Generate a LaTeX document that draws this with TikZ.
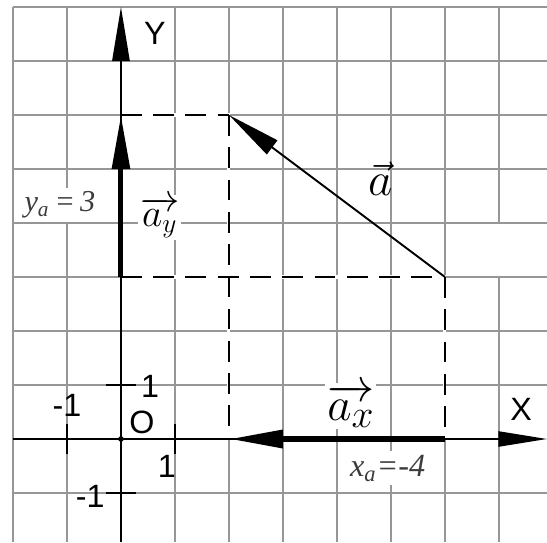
\documentclass[tikz,border=0pt]{standalone}
\usepackage{fontspec}
\setmainfont{Liberation Serif}
\setsansfont{Liberation Sans}
\usetikzlibrary{arrows.meta, positioning}
\definecolor{gridgray}{RGB}{150,150,150}
\definecolor{labelgray}{RGB}{60,60,60}

\begin{document}
\begin{tikzpicture}[>={Triangle[length=1cm, width=0.32cm]}]
    \useasboundingbox (-2.24,-1.91) rectangle (7.89,8.13);

    % Grid
    \foreach \x in {-2,-1,1,2,3,4,5,6} {
        \draw[gridgray, line width=0.6pt] (\x,-1.91) -- (\x,8);
    }
    \draw[gridgray, line width=0.6pt] (7,-1.91) -- (7,3) (7,4) -- (7,8);
    \foreach \y in {-1,1,2,...,8} {
        \draw[gridgray, line width=0.6pt] (-2,\y) -- (7.89,\y);
    }

    % Points
    \coordinate (O) at (0,0);
    \coordinate (A) at (6,3);
    \coordinate (B) at (2,6);
    \coordinate (Ax) at (6,0);
    \coordinate (Bx) at (2,0);
    \coordinate (Ay) at (0,3);
    \coordinate (By) at (0,6);
    \coordinate (xleft) at (-2,0);
    \coordinate (xright) at (7.89,0);
    \coordinate (ybottom) at (0,-1.91);
    \coordinate (ytop) at (0,8);

    % Projection lines
    \draw[white, line width=1.6pt] (By) -- (B) -- (Bx) (Ay) -- (A) -- (Ax);
    \draw[black, line width=1pt, dash pattern=on 11pt off 6pt] (By) -- (B);
    \draw[black, line width=1pt, dash pattern=on 11pt off 6pt] (B) -- (Bx);
    \draw[black, line width=1pt, dash pattern=on 11pt off 6pt] (Ay) -- (A);
    \draw[black, line width=1pt, dash pattern=on 11pt off 6pt] (A) -- (Ax);

    % Axes
    \draw[line width=1pt, -{Triangle[length=0.9cm, width=0.28cm]}] (xleft) -- (xright);
    \draw[line width=1pt, ->] (ybottom) -- (ytop);
    \fill (O) circle (1.5pt);

    % Ticks
    \foreach \t in {-1,1} {
        \draw[line width=1pt] (\t,-0.27) -- (\t,0.27);
        \draw[line width=1pt] (-0.28,\t) -- (0.28,\t);
    }

    % Vector and its components
    \draw[line width=1pt, ->] (A) -- (B);
    \draw[line width=2.6pt, ->] (Ay) -- (By);
    \draw[line width=3pt, ->] (Ax) -- (Bx);

    % Labels
    \node[font=\sffamily\fontsize{17}{17}\selectfont] (ylab) at (0.63,7.52) {Y};
    \node[font=\sffamily\fontsize{17}{17}\selectfont] (xlab) at (7.41,0.54) {X};
    \node[font=\sffamily\fontsize{17}{17}\selectfont] (olab) at (0.39,0.31) {O};
    \node[font=\sffamily\fontsize{17}{17}\selectfont] (xminus) at (-1.0,0.62) {-1};
    \node[font=\sffamily\fontsize{17}{17}\selectfont] (xone) at (0.85,-0.51) {1};
    \node[font=\sffamily\fontsize{17}{17}\selectfont] (yone) at (0.54,0.98) {1};
    \node[font=\sffamily\fontsize{17}{17}\selectfont] (yminus) at (-0.57,-1.06) {-1};

    \node[font=\fontsize{34}{34}\selectfont] (alab) at (4.8,4.83) {$\vec{a}$};
    \node[fill=white, inner sep=1pt, font=\fontsize{22}{22}\selectfont] (aylab) at (0.72,4.1) {$\overrightarrow{a_y}$};
    \node[fill=white, inner sep=1pt, font=\fontsize{28}{28}\selectfont] (axlab) at (4.26,0.61) {$\overrightarrow{a_x}$};
    \node[fill=white, inner sep=2pt, text=labelgray, font=\itshape\fontsize{16}{16}\selectfont] (yalab) at (-1.13,4.33) {y\textsubscript{a}\,=\,3};
    \node[fill=white, inner sep=2pt, text=labelgray, font=\itshape\fontsize{17}{17}\selectfont] (xalab) at (4.94,-0.54) {x\textsubscript{a}=-4};
\end{tikzpicture}
\end{document}
